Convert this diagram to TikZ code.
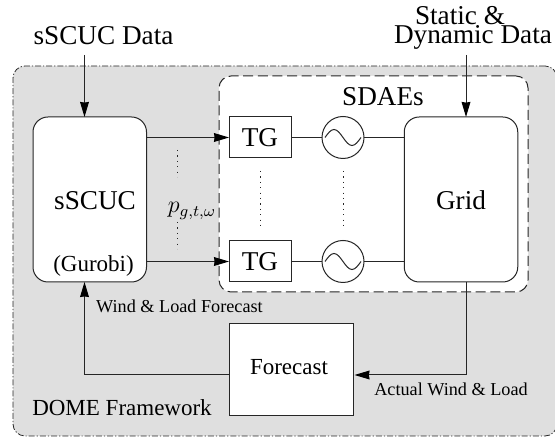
\documentclass[tikz,border=0pt]{standalone}
\usepackage{amsmath}
\usepackage{fontspec}
\setmainfont{Liberation Serif}
\usetikzlibrary{arrows.meta, calc}
\definecolor{domegray}{HTML}{DFDFDF}
\newcommand{\bigfont}{\fontsize{13.6}{16}\selectfont}
\newcommand{\midfont}{\fontsize{11.5}{14}\selectfont}
\newcommand{\smallfont}{\fontsize{9.1}{11}\selectfont}
\tikzset{
	panel/.style={draw, inner sep=0pt, outer sep=0pt, rounded corners=6pt},
	block/.style={draw, fill=white, inner sep=0pt, outer sep=0pt, font=\bigfont},
	softblock/.style={block, rounded corners=7.5pt, minimum width=56.75pt, minimum height=82.5pt},
	tgblock/.style={block, minimum width=31pt, minimum height=20.5pt},
	genblock/.style={draw, fill=white, circle, inner sep=0pt, outer sep=0pt, minimum size=21pt},
	biglabel/.style={anchor=base, inner sep=0pt, font=\bigfont},
	midlabel/.style={anchor=base, inner sep=0pt, font=\midfont},
	smalllabel/.style={anchor=base, inner sep=0pt, font=\smallfont},
	vdots/.style={dash pattern=on 0.6pt off 2.1pt, line width=0.5pt}
}

\begin{document}
\begin{tikzpicture}[x=0.5pt, y=0.5pt, >={Stealth[length=7.5pt, width=4.4pt, inset=0.3pt, black]},
			line width=0.5pt, color=black!85, text=black, node distance=41.5pt]
		\useasboundingbox (0,0) rectangle (555,437);

		\node [panel, fill=domegray, line width=0.4pt, dash pattern=on 3pt off 1pt on 0.6pt off 1pt,
			minimum width=272pt, minimum height=185pt] (dome) at (285,186) {};
		\node [panel, fill=white, dash pattern=on 5pt off 2.3pt,
			minimum width=154.5pt, minimum height=108pt] (sdaes) at (373.5,253) {};

		\node [softblock] (sscuc) at (89.75,237.5) {};
		\node [softblock] (grid) at (461,237.5) {};
		\node [tgblock] (tgtop) at (260,299.5) {TG};
		\node [tgblock] (tgbot) at (260,175.5) {TG};
		\node [genblock, right of=tgtop] (gentop) {};
		\node [genblock, right of=tgbot] (genbot) {};
		\node [block, font=\midfont, minimum width=62pt, minimum height=46pt] (forecast) at (291,67) {};

		\node [midlabel] (forecasttext) at (289,62) {Forecast};
		\node [biglabel] (sscuctext) at (95,227) {sSCUC};
		\node [midlabel] (gurobi) at (93.5,165) {(Gurobi)};
		\node [biglabel] (gridtext) at (461,227) {Grid};
		\node [biglabel] (sdaestext) at (383,331) {SDAEs};
		\node [biglabel] (sscucdata) at (103.5,392) {sSCUC Data};
		\node [biglabel] (statictext) at (460,412) {Static \&};
		\node [biglabel] (dyntext) at (473,393) {Dynamic Data};
		\node [midlabel] (frame) at (122,21) {DOME Framework};
		\node [smalllabel] (windtext) at (179.5,124) {Wind \& Load Forecast};
		\node [smalllabel] (actualtext) at (451,41) {Actual Wind \& Load};
		\node [midlabel] (power) at (192,224) {$p_{g,t,\omega}$};

		% free ends of the feeds
		\coordinate (sscucin) at (84.5,382);
		\coordinate (gridin) at (466,382);
		\coordinate (griddrop) at (466,62);
		\coordinate (backturn) at (84.5,62);

		\draw[->] (sscucin) -- (sscucin |- sscuc.north);
		\draw[->] (gridin) -- (gridin |- grid.north);
		\draw[->] (sscuc.east |- tgtop) -- (tgtop.west);
		\draw[->] (sscuc.east |- tgbot) -- (tgbot.west);
		\draw (tgtop) -- (gentop) -- (grid.west |- gentop);
		\draw (tgbot) -- (genbot) -- (grid.west |- genbot);
		\draw[->] (griddrop |- grid.south) -- (griddrop) -- ($(griddrop -| forecast.east)+(1.5,0)$);
		\draw[->] (backturn -| forecast.west) -- (backturn) -- (backturn |- sscuc.south);

		\foreach \gen in {gentop, genbot}
			\draw[shift={(\gen.center)}] (-18,0) sin (-9,8) cos (0,0) sin (9,-8) cos (18,0);

		% dotted runs between the rows
		\coordinate (dotsa) at (177.5,287);
		\coordinate (dotsb) at (177.5,260);
		\coordinate (dotsc) at (177.5,215);
		\coordinate (dotsd) at (177.5,188);
		\coordinate (dotse) at (260,266);
		\coordinate (dotsf) at (260,207);
		\draw[vdots] (dotsa) -- (dotsb);
		\draw[vdots] (dotsc) -- (dotsd);
		\draw[vdots] (dotse) -- (dotsf);
		\draw[vdots] (dotse -| gentop) -- (dotsf -| gentop);
	\end{tikzpicture}
\end{document}
